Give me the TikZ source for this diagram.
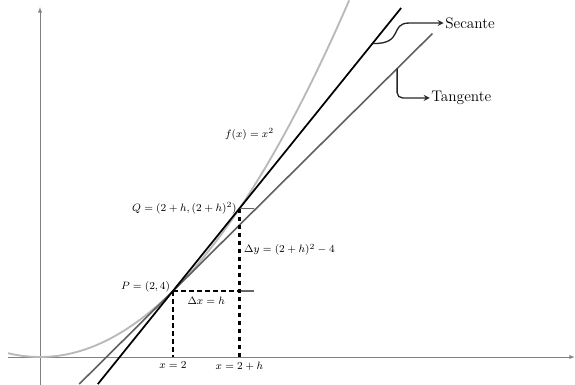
\documentclass[tikz,border=0pt]{standalone}
\usepackage{tikz}
\usetikzlibrary{shapes.geometric, arrows}

\begin{document}
\begin{tikzpicture}[x=49.875pt, y=12.375pt, font=\footnotesize,
        eje/.style={gray, thin, -latex},
        guia/.style={black, line width=1.6pt, dash pattern=on 3.5pt off 2.5pt},
        marca/.style={gray!80!black, line width=0.8pt},
        flecha/.style={gray!30!black, line width=1pt, -stealth}]
            \useasboundingbox (-0.6015,-1.636) rectangle (8.045,21.636);
            % ejes
            \coordinate (xizq) at (-0.48,0);
            \coordinate (xder) at (8.04,0);
            \coordinate (yabajo) at (0,-1.7);
            \coordinate (yarriba) at (0,21.2);
            \draw[eje] (xizq) -- (xder);
            \draw[eje] (yabajo) -- (yarriba);

            % curva y rectas
            \draw[gray!55, line width=1.4pt, domain=-0.48:4.65, samples=80]
                plot (\x, {\x*\x});
            \coordinate (t1) at (0.59,-1.64);
            \coordinate (t2) at (5.9,19.6);
            \coordinate (s1) at (0.87,-1.64);
            \coordinate (s2) at (5.43,21.15);
            \draw[gray!75!black, line width=1.2pt] (t1) -- (t2);
            \draw[black, line width=1.3pt] (s1) -- (s2);

            % puntos
            \coordinate (P) at (2,4);
            \coordinate (Q) at (3,9);
            \coordinate (R) at (3,4);
            \coordinate (A) at (2,0);
            \coordinate (B) at (3,0);
            \draw[marca] (Q) -- ++(0.22,0);
            \draw[marca] (R) -- ++(0.22,0);
            \draw[guia] (P) -- (A);
            \draw[guia] (P) -- (R);
            \draw[guia] (Q) -- (B);

            % etiquetas
            \node[anchor=east, inner sep=2pt] (lP) at ([yshift=3pt]P) {$P=(2,4)$};
            \node[anchor=east, inner sep=2pt] (lQ) at (Q) {$Q=(2+h,(2+h)^2)$};
            \node[anchor=north] (ldx) at ([yshift=-1pt]2.5,4) {$\Delta x = h$};
            \node[anchor=west] (ldy) at (3,6.5) {$\Delta y = (2+h)^2-4$};
            \node (lf) at (3.15,13.5) {$f(x)=x^2$};
            \node[anchor=north] (lA) at (A) {$x=2$};
            \node[anchor=north] (lB) at (B) {$x=2+h$};

            % secante y tangente
            \coordinate (ps) at (5,19);
            \coordinate (pt) at (5.37,17.48);
            \node[anchor=west, inner sep=1pt, font=\fontsize{11.5}{13}\selectfont] (sec) at (6.07,20.24) {Secante};
            \node[anchor=west, inner sep=1pt, font=\fontsize{11.5}{13}\selectfont] (tan) at (5.86,15.7) {Tangente};
            \draw[flecha] (ps) .. controls (5.48,18.95) and (5.25,20.24) .. (5.55,20.24) -- (sec.west);
            \draw[flecha, rounded corners=4pt] (pt) |- (tan.west);
        \end{tikzpicture}
\end{document}
